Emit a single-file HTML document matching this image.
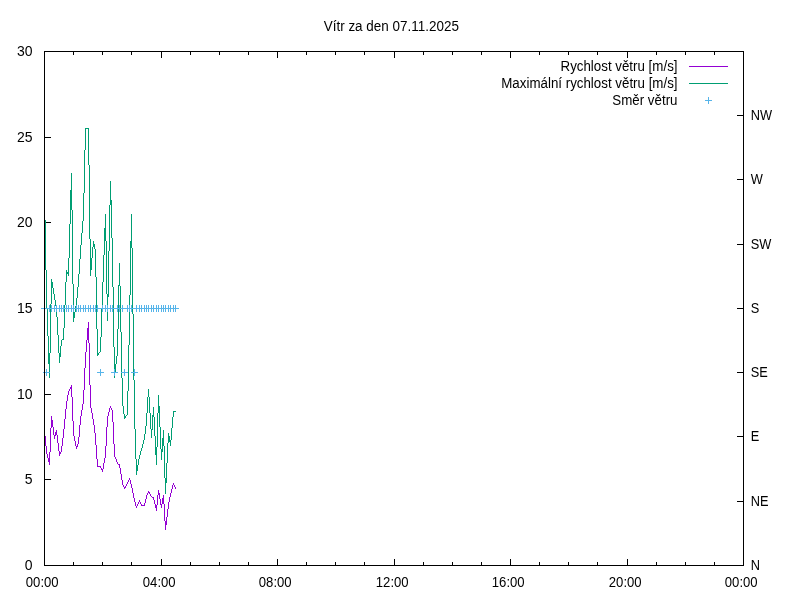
<!DOCTYPE html>
<html><head><meta charset="utf-8"><title>Vítr za den 07.11.2025</title>
<style>
html,body{margin:0;padding:0;background:#fff;}
svg{display:block;will-change:transform;}
text{font-family:"Liberation Sans",Arial,sans-serif;font-size:13.33px;fill:#000;}
.ax{stroke:#000;stroke-width:1;fill:none;shape-rendering:crispEdges;}
.ln{fill:none;stroke-width:1;shape-rendering:crispEdges;stroke-linejoin:miter;}
</style></head><body>
<svg width="800" height="600" viewBox="0 0 800 600">
<rect x="0" y="0" width="800" height="600" fill="#fff"/>
<path class="ax" d="M73.5 562V566M73.5 51V55M102.5 562V566M102.5 51V55M131.5 562V566M131.5 51V55M161.5 559V566M161.5 51V58M190.5 562V566M190.5 51V55M219.5 562V566M219.5 51V55M248.5 562V566M248.5 51V55M277.5 559V566M277.5 51V58M306.5 562V566M306.5 51V55M335.5 562V566M335.5 51V55M364.5 562V566M364.5 51V55M394.5 559V566M394.5 51V58M423.5 562V566M423.5 51V55M452.5 562V566M452.5 51V55M481.5 562V566M481.5 51V55M510.5 559V566M510.5 51V58M539.5 562V566M539.5 51V55M568.5 562V566M568.5 51V55M597.5 562V566M597.5 51V55M627.5 559V566M627.5 51V58M656.5 562V566M656.5 51V55M685.5 562V566M685.5 51V55M714.5 562V566M714.5 51V55M44 479.5H51M44 394.5H51M44 308.5H51M44 222.5H51M44 137.5H51M737 501.5H744M737 436.5H744M737 372.5H744M737 308.5H744M737 244.5H744M737 179.5H744M737 115.5H744"/>
<text transform="translate(32.5 570) scale(1.05 1.09)" text-anchor="end">0</text>
<text transform="translate(32.5 484) scale(1.05 1.09)" text-anchor="end">5</text>
<text transform="translate(32.5 399) scale(1.05 1.09)" text-anchor="end">10</text>
<text transform="translate(32.5 313) scale(1.05 1.09)" text-anchor="end">15</text>
<text transform="translate(32.5 227) scale(1.05 1.09)" text-anchor="end">20</text>
<text transform="translate(32.5 142) scale(1.05 1.09)" text-anchor="end">25</text>
<text transform="translate(32.5 56) scale(1.05 1.09)" text-anchor="end">30</text>
<text transform="translate(42.2 587) scale(0.985 1.09)" text-anchor="middle">00:00</text>
<text transform="translate(159.2 587) scale(0.985 1.09)" text-anchor="middle">04:00</text>
<text transform="translate(275.2 587) scale(0.985 1.09)" text-anchor="middle">08:00</text>
<text transform="translate(392.2 587) scale(0.985 1.09)" text-anchor="middle">12:00</text>
<text transform="translate(508.2 587) scale(0.985 1.09)" text-anchor="middle">16:00</text>
<text transform="translate(625.2 587) scale(0.985 1.09)" text-anchor="middle">20:00</text>
<text transform="translate(741.2 587) scale(0.985 1.09)" text-anchor="middle">00:00</text>
<text transform="translate(750.8 569.6) scale(0.96 1.09)">N</text>
<text transform="translate(750.8 505.6) scale(0.96 1.09)">NE</text>
<text transform="translate(750.8 440.6) scale(0.96 1.09)">E</text>
<text transform="translate(750.8 376.6) scale(0.96 1.09)">SE</text>
<text transform="translate(750.8 312.6) scale(0.96 1.09)">S</text>
<text transform="translate(750.8 248.6) scale(0.96 1.09)">SW</text>
<text transform="translate(750.8 183.6) scale(0.96 1.09)">W</text>
<text transform="translate(750.8 119.6) scale(0.96 1.09)">NW</text>
<text transform="translate(391.3 30.6) scale(1.01 1.09)" text-anchor="middle">Vítr za den 07.11.2025</text>
<text transform="translate(677.5 71) scale(1.0 1.09)" text-anchor="end">Rychlost větru [m/s]</text>
<text transform="translate(677.5 88) scale(1.0 1.09)" text-anchor="end">Maximální rychlost větru [m/s]</text>
<text transform="translate(677.5 105) scale(1.0 1.09)" text-anchor="end">Směr větru</text>
<path class="ln" stroke="#9400d3" d="M689 66.5H728"/>
<path class="ln" stroke="#009e73" d="M689 83.5H728"/>
<path class="ln" stroke="#9400d3" d="M44.5 431V436M45.5 436V446M46.5 446V454M47.5 454V458M48.5 458V462M49.5 452V465M50.5 428V452M51.5 416V428M52.5 420V427M53.5 427V435M54.5 435V439M55.5 432V436M56.5 430V435M57.5 435V443M58.5 443V451M59.5 451V456M60.5 452V454M61.5 446V452M62.5 438V446M63.5 429V438M64.5 419V429M65.5 409V419M66.5 401V409M67.5 395V401M68.5 391V395M69.5 389V391M70.5 387V389M71.5 385V397M72.5 397V421M73.5 421V436M74.5 436V441M75.5 441V446M76.5 446V449M77.5 444V447M78.5 437V444M79.5 425V437M80.5 416V425M81.5 410V416M82.5 404V410M83.5 390V404M84.5 368V390M85.5 352V368M86.5 340V352M87.5 328V340M88.5 322V343M89.5 343V385M90.5 385V408M91.5 408V413M92.5 413V419M93.5 419V425M94.5 425V433M95.5 433V445M96.5 445V459M97.5 459V467M98.5 466V467M99.5 466V467M100.5 466V468M101.5 468V470M102.5 469V472M103.5 463V469M104.5 458V463M105.5 446V458M106.5 427V446M107.5 416V427M108.5 412V416M109.5 408V412M110.5 406V408M111.5 408V410M112.5 410V422M113.5 422V444M114.5 444V457M115.5 457V459M116.5 459V462M117.5 462V464M118.5 464V465M119.5 464V468M120.5 468V474M121.5 474V480M122.5 480V485M123.5 485V487M124.5 487V489M125.5 486V488M126.5 484V486M127.5 482V484M128.5 480V482M129.5 478V480M130.5 480V484M131.5 484V488M132.5 488V493M133.5 493V498M134.5 498V502M135.5 502V506M136.5 506V508M137.5 504V506M138.5 502V504M139.5 500V502M140.5 502V504M141.5 504V506M142.5 505V506M143.5 505V506M144.5 503V506M145.5 499V503M146.5 495V499M147.5 493V495M148.5 491V493M149.5 492V494M150.5 494V496M151.5 496V497M152.5 497V498M153.5 497V500M154.5 500V504M155.5 504V508M156.5 505V511M157.5 495V505M158.5 490V495M159.5 493V499M160.5 499V505M161.5 504V508M162.5 498V504M163.5 495V504M164.5 504V521M165.5 521V530M166.5 517V525M167.5 509V517M168.5 502V509M169.5 497V502M170.5 493V497M171.5 489V493M172.5 485V489M173.5 483V485M174.5 485V487M175.5 487V489"/>
<path class="ln" stroke="#009e73" d="M44.5 195V220M45.5 220V270M46.5 270V309M47.5 309V336M48.5 336V364M49.5 353V378M50.5 304V353M51.5 279V304M52.5 282V288M53.5 288V294M54.5 294V300M55.5 300V306M56.5 306V317M57.5 317V335M58.5 335V353M59.5 353V363M60.5 346V357M61.5 340V346M62.5 339V340M63.5 328V340M64.5 305V328M65.5 282V305M66.5 270V282M67.5 272V274M68.5 258V276M69.5 224V258M70.5 190V224M71.5 173V210M72.5 210V284M73.5 284V322M74.5 312V318M75.5 306V312M76.5 298V306M77.5 287V298M78.5 274V287M79.5 259V274M80.5 245V259M81.5 233V245M82.5 221V233M83.5 193V221M84.5 150V193M85.5 128V150M86.5 128V129M87.5 128V129M88.5 128V165M89.5 165V239M90.5 239V276M91.5 258V270M92.5 247V258M93.5 241V247M94.5 244V249M95.5 249V277M96.5 277V329M97.5 329V356M98.5 353V355M99.5 352V353M100.5 337V352M101.5 309V337M102.5 282V309M103.5 255V282M104.5 228V255M105.5 214V241M106.5 241V294M107.5 294V321M108.5 251V297M109.5 205V251M110.5 181V205M111.5 200V238M112.5 238V287M113.5 287V347M114.5 347V378M115.5 364V373M116.5 356V364M117.5 329V356M118.5 285V329M119.5 263V286M120.5 286V332M121.5 332V378M122.5 378V406M123.5 406V414M124.5 414V419M125.5 416V418M126.5 415V416M127.5 391V415M128.5 345V391M129.5 295V345M130.5 241V295M131.5 214V248M132.5 248V314M133.5 314V380M134.5 380V429M135.5 429V459M136.5 459V475M137.5 465V471M138.5 459V465M139.5 455V459M140.5 451V455M141.5 448V451M142.5 444V448M143.5 440V444M144.5 434V440M145.5 426V434M146.5 413V426M147.5 397V413M148.5 389V397M149.5 397V413M150.5 413V429M151.5 429V438M152.5 415V430M153.5 407V417M154.5 417V436M155.5 436V455M156.5 447V465M157.5 413V447M158.5 395V413M159.5 406V427M160.5 427V449M161.5 449V460M162.5 438V452M163.5 430V446M164.5 446V478M165.5 478V494M166.5 463V483M167.5 443V463M168.5 433V443M169.5 436V442M170.5 440V446M171.5 428V440M172.5 417V428M173.5 411V417M174.5 411V412M175.5 411V412"/>
<path class="ln" stroke="#56b4e9" d="M41 308.5H48M44.5 305V312M43 372.5H50M46.5 369V376M46 308.5H53M49.5 305V312M48 308.5H55M51.5 305V312M51 308.5H58M54.5 305V312M53 308.5H60M56.5 305V312M56 308.5H63M59.5 305V312M58 308.5H65M61.5 305V312M60 308.5H67M63.5 305V312M63 308.5H70M66.5 305V312M65 308.5H72M68.5 305V312M68 308.5H75M71.5 305V312M70 308.5H77M73.5 305V312M73 308.5H80M76.5 305V312M75 308.5H82M78.5 305V312M77 308.5H84M80.5 305V312M80 308.5H87M83.5 305V312M82 308.5H89M85.5 305V312M85 308.5H92M88.5 305V312M87 308.5H94M90.5 305V312M90 308.5H97M93.5 305V312M92 308.5H99M95.5 305V312M94 308.5H101M97.5 305V312M97 372.5H104M100.5 369V376M99 308.5H106M102.5 305V312M102 308.5H109M105.5 305V312M104 308.5H111M107.5 305V312M107 308.5H114M110.5 305V312M109 308.5H116M112.5 305V312M111 372.5H118M114.5 369V376M114 308.5H121M117.5 305V312M116 308.5H123M119.5 305V312M119 308.5H126M122.5 305V312M121 372.5H128M124.5 369V376M124 308.5H131M127.5 305V312M126 308.5H133M129.5 305V312M128 308.5H135M131.5 305V312M131 372.5H138M134.5 369V376M133 308.5H140M136.5 305V312M136 308.5H143M139.5 305V312M138 308.5H145M141.5 305V312M141 308.5H148M144.5 305V312M143 308.5H150M146.5 305V312M145 308.5H152M148.5 305V312M148 308.5H155M151.5 305V312M150 308.5H157M153.5 305V312M153 308.5H160M156.5 305V312M155 308.5H162M158.5 305V312M158 308.5H165M161.5 305V312M160 308.5H167M163.5 305V312M162 308.5H169M165.5 305V312M165 308.5H172M168.5 305V312M167 308.5H174M170.5 305V312M170 308.5H177M173.5 305V312M172 308.5H179M175.5 305V312M705 100.5H712M708.5 97V104"/>
<path class="ax" d="M44 51.5H744M44 565.5H744M44.5 51V566M743.5 51V566"/>
</svg></body></html>
